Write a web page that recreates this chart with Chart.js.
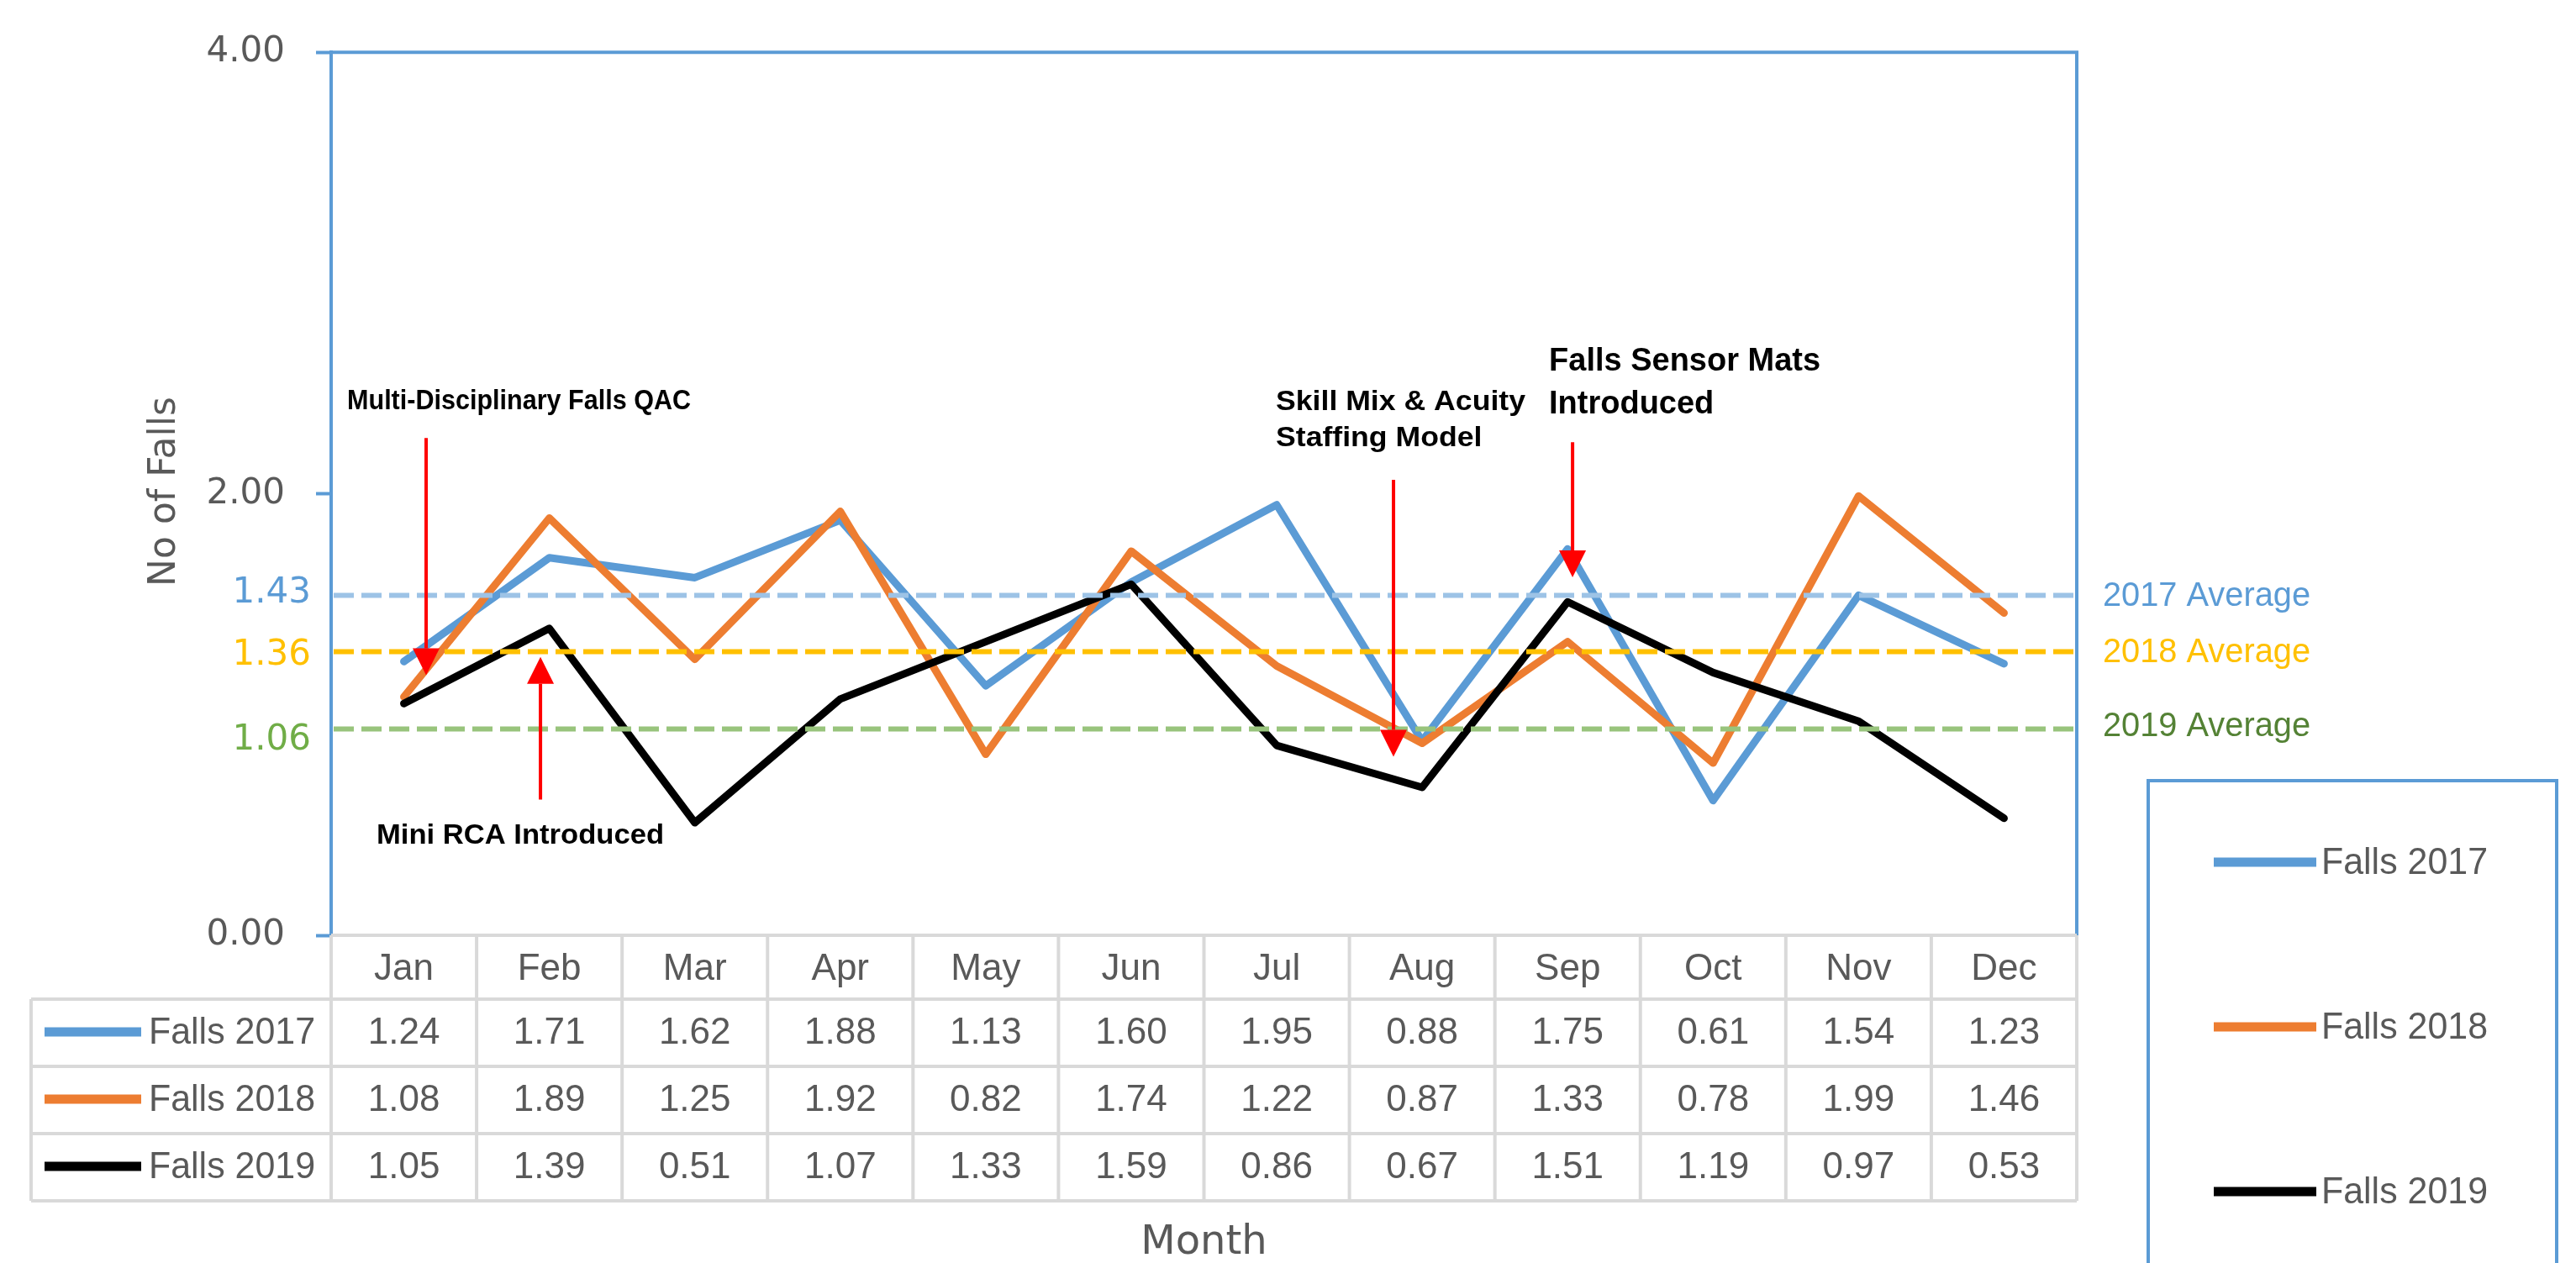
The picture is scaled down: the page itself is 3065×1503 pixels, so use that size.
<!DOCTYPE html>
<html>
<head>
<meta charset="utf-8">
<script src="https://cdn.jsdelivr.net/npm/chart.js@4.4.0/dist/chart.umd.min.js"></script>
<style>
html,body{margin:0;padding:0;background:#ffffff;overflow:hidden;}
#wrap{width:3065px;height:1503px;position:relative;}
canvas{display:block;}
</style>
</head>
<body>
<div id="wrap"><canvas id="c" width="3065" height="1503"></canvas></div>
<script>
// ---------- DATA ----------
const months = ['Jan','Feb','Mar','Apr','May','Jun','Jul','Aug','Sep','Oct','Nov','Dec'];
const seriesNames = ['Falls 2017','Falls 2018','Falls 2019'];
const falls2017 = [1.24,1.71,1.62,1.88,1.13,1.60,1.95,0.88,1.75,0.61,1.54,1.23];
const falls2018 = [1.08,1.89,1.25,1.92,0.82,1.74,1.22,0.87,1.33,0.78,1.99,1.46];
const falls2019 = [1.05,1.39,0.51,1.07,1.33,1.59,0.86,0.67,1.51,1.19,0.97,0.53];
const yTickValues = [0,2,4];
const averageLabels = ['1.43','1.36','1.06'];
const averageNames = ['2017 Average','2018 Average','2019 Average'];
const averageLineLevels = [1.54,1.285,0.935];   // where the dashed lines sit in the picture
const yAxisTitle = 'No of Falls';
const xAxisTitle = 'Month';

// annotations: text lines, anchor (category index, value); arrows from (x,y0) to tip (x,y1)
const noteTexts = [
  ['Multi-Disciplinary Falls QAC'],
  ['Mini RCA Introduced'],
  ['Skill Mix & Acuity','Staffing Model'],
  ['Falls Sensor Mats','Introduced']
];
const noteAnchorX = [-0.39,-0.188,5.994,7.872];
const noteAnchorY = [[2.431],[0.46],[2.427,2.26],[2.61,2.416]];
const arrowX = [0.153,0.939,6.803,8.034];
const arrowFrom = [2.253,0.615,2.063,2.234];
const arrowTo = [1.178,1.261,0.809,1.622];

// ---------- STYLE ----------
const BLUE='#5B9BD5', ORANGE='#ED7D31', BLACK='#000000', GRAY='#595959', GRID='#D9D9D9', RED='#FF0000';
const seriesColors=[BLUE,ORANGE,BLACK];
const avgLineColors=['#9DC3E6','#FFC000','#98C47C'];
const avgLabelColors=['#5B9BD5','#FFC000','#70AD47'];
const avgNameColors=['#5B9BD5','#FFC000','#548235'];
const avgLabelDy=[-7,0,9];
const avgNameDy=[-2,-2,-6];
const noteStyle=[
  {size:34,width:409},
  {size:34,width:342},
  {size:34,width:297},
  {size:39,width:323}
];

function txt(ctx, s, x, cy, o){
  ctx.save();
  ctx.font = (o.weight||'normal')+' '+o.size+'px '+(o.family||'"Liberation Sans"');
  ctx.fillStyle = o.color||GRAY;
  ctx.textBaseline='alphabetic'; ctx.textAlign='left';
  const w = ctx.measureText(s).width;
  const sc = o.scale || (o.width ? o.width/w : 1);
  const W = w*sc;
  const x0 = o.align==='center' ? x-W/2 : (o.align==='right' ? x-W : x);
  ctx.translate(x0, cy + (o.cap||0.716)*o.size/2);
  ctx.scale(sc,1);
  ctx.fillText(s,0,0);
  ctx.restore();
  return sc;
}

const extras = {
  id:'extras',
  afterDatasetsDraw(chart){
    const ctx=chart.ctx, a=chart.chartArea, ys=chart.scales.y;
    ctx.save();
    ctx.lineWidth=6; ctx.setLineDash([24,9]); ctx.lineCap='butt';
    averageLineLevels.forEach((v,i)=>{
      const y=ys.getPixelForValue(v);
      ctx.strokeStyle=avgLineColors[i];
      ctx.beginPath(); ctx.moveTo(a.left+3,y); ctx.lineTo(a.right-3,y); ctx.stroke();
    });
    ctx.restore();
  },
  afterDraw(chart){
    const ctx=chart.ctx, a=chart.chartArea, xs=chart.scales.x, ys=chart.scales.y;
    // plot border top/right
    ctx.save();
    ctx.strokeStyle=BLUE; ctx.lineWidth=4;
    ctx.beginPath(); ctx.moveTo(a.left-2,a.top); ctx.lineTo(a.right,a.top); ctx.lineTo(a.right,a.bottom); ctx.stroke();
    ctx.restore();

    // average labels on left and names on right
    averageLineLevels.forEach((v,i)=>{
      const y=ys.getPixelForValue(v);
      txt(ctx, averageLabels[i], 370, y+avgLabelDy[i], {size:42,family:'"DejaVu Sans"',cap:0.729,color:avgLabelColors[i],align:'right'});
      txt(ctx, averageNames[i], a.right+31, y+avgNameDy[i], {size:40,color:avgNameColors[i],width:247});
    });

    // data table
    const colW=(a.right-a.left)/months.length;
    const tLeft=37, headerH=76, rowH=80;
    const rowTop=a.bottom+headerH;
    const tBottom=rowTop+rowH*seriesNames.length;
    ctx.save();
    ctx.strokeStyle=GRID; ctx.lineWidth=4;
    ctx.beginPath();
    ctx.moveTo(a.left,a.bottom); ctx.lineTo(a.right,a.bottom);
    for(let r=0;r<=seriesNames.length;r++){
      const y=rowTop+r*rowH;
      ctx.moveTo(tLeft,y); ctx.lineTo(a.right,y);
    }
    for(let i=0;i<=months.length;i++){
      const x=a.left+i*colW;
      ctx.moveTo(x,a.bottom); ctx.lineTo(x,tBottom);
    }
    ctx.moveTo(tLeft,rowTop); ctx.lineTo(tLeft,tBottom);
    ctx.stroke();
    ctx.restore();

    months.forEach((m,i)=>{
      txt(ctx, m, xs.getPixelForValue(i), a.bottom+headerH/2-1, {size:44,align:'center'});
    });
    const allSeries=[falls2017,falls2018,falls2019];
    allSeries.forEach((arr,r)=>{
      const cy=rowTop+r*rowH+rowH/2-3;
      ctx.save();
      ctx.strokeStyle=seriesColors[r]; ctx.lineWidth=11; ctx.lineCap='butt';
      ctx.beginPath(); ctx.moveTo(53,cy+2); ctx.lineTo(168,cy+2); ctx.stroke();
      ctx.restore();
      txt(ctx, seriesNames[r], 177, cy, {size:44,width:198});
      arr.forEach((v,i)=>{
        txt(ctx, v.toFixed(2), xs.getPixelForValue(i), cy, {size:44,align:'center'});
      });
    });

    // axis titles
    txt(ctx, xAxisTitle, (a.left+a.right)/2, 1475, {size:48,family:'"DejaVu Sans"',cap:0.729,align:'center'});
    ctx.save();
    ctx.translate(192,585); ctx.rotate(-Math.PI/2);
    txt(ctx, yAxisTitle, 0, 0, {size:44,family:'"DejaVu Sans"',cap:0.729,align:'center'});
    ctx.restore();

    // legend box
    ctx.save();
    ctx.strokeStyle=BLUE; ctx.lineWidth=4;
    ctx.strokeRect(2556,929,486,700);
    seriesNames.forEach((n,r)=>{
      const cy=1024+r*196;
      ctx.strokeStyle=seriesColors[r]; ctx.lineWidth=11; ctx.lineCap='butt';
      ctx.beginPath(); ctx.moveTo(2634,cy+2); ctx.lineTo(2756,cy+2); ctx.stroke();
      txt(ctx, n, 2762, cy, {size:44,width:198});
    });
    ctx.restore();

    // annotations
    noteTexts.forEach((lines,k)=>{
      const x=xs.getPixelForValue(noteAnchorX[k]);
      ctx.save();
      ctx.font='bold '+noteStyle[k].size+'px "Liberation Sans"';
      const sc=noteStyle[k].width/ctx.measureText(lines[0]).width;
      ctx.restore();
      lines.forEach((s,j)=>{
        txt(ctx, s, x, ys.getPixelForValue(noteAnchorY[k][j]), {size:noteStyle[k].size,weight:'bold',color:'#000000',scale:sc});
      });
    });
    // arrows
    arrowX.forEach((xv,k)=>{
      const x=xs.getPixelForValue(xv);
      const y0=ys.getPixelForValue(arrowFrom[k]);
      const y1=ys.getPixelForValue(arrowTo[k]);
      const dir=Math.sign(y1-y0);
      const head=32, half=16;
      ctx.save();
      ctx.strokeStyle=RED; ctx.fillStyle=RED; ctx.lineWidth=4;
      ctx.beginPath(); ctx.moveTo(x,y0); ctx.lineTo(x,y1-dir*head); ctx.stroke();
      ctx.beginPath(); ctx.moveTo(x,y1); ctx.lineTo(x-half,y1-dir*head); ctx.lineTo(x+half,y1-dir*head); ctx.closePath(); ctx.fill();
      ctx.restore();
    });
  }
};

const mk=(label,data,color,order)=>({label,data,borderColor:color,backgroundColor:color,borderWidth:9,pointRadius:0,pointHoverRadius:0,tension:0,borderJoinStyle:'round',borderCapStyle:'round',order});

new Chart(document.getElementById('c'),{
  type:'line',
  data:{
    labels:months,
    datasets:[
      mk(seriesNames[0],falls2017,BLUE,3),
      mk(seriesNames[1],falls2018,ORANGE,2),
      mk(seriesNames[2],falls2019,BLACK,1)
    ]
  },
  options:{
    responsive:false,
    animation:false,
    events:[],
    layout:{padding:{top:60,right:594,bottom:390,left:0}},
    plugins:{legend:{display:false},tooltip:{enabled:false}},
    scales:{
      x:{display:false,offset:true},
      y:{
        min:0,max:4,
        afterFit(scale){scale.width=394;},
        afterBuildTicks(scale){scale.ticks=yTickValues.map(v=>({value:v}));},
        ticks:{padding:37,color:GRAY,font:{family:'"DejaVu Sans"',size:42},callback:(v)=>Number(v).toFixed(2)},
        grid:{drawOnChartArea:false,drawTicks:true,tickLength:18,tickColor:BLUE,tickWidth:4},
        border:{display:true,color:BLUE,width:4}
      }
    }
  },
  plugins:[extras]
});
</script>
</body>
</html>
